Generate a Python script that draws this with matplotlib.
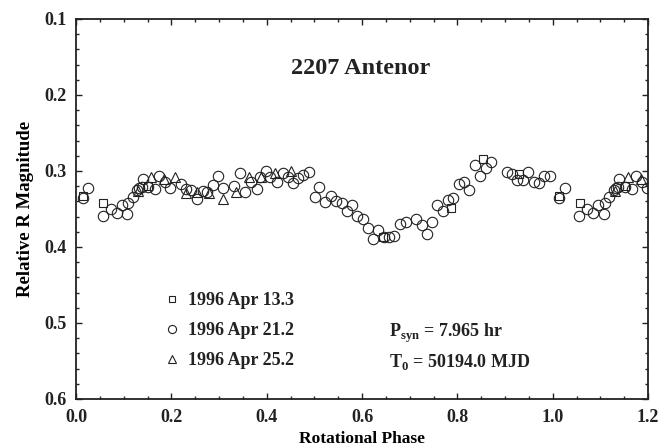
import matplotlib
matplotlib.use("Agg")
import matplotlib.pyplot as plt
import numpy as np
from matplotlib.ticker import MultipleLocator, FormatStrFormatter

plt.rcParams['font.family'] = ['Liberation Serif', 'DejaVu Serif']
plt.rcParams['font.weight'] = 'bold'
plt.rcParams['mathtext.fontset'] = 'custom'
plt.rcParams['mathtext.rm'] = 'Liberation Serif:bold'
plt.rcParams['mathtext.bf'] = 'Liberation Serif:bold'

# ---- data (rotational phase 0..1, relative R magnitude) ----
phase_apr13 = [0.014, 0.057, 0.152, 0.645, 0.786, 0.8545, 0.929]
mag_apr13 = [0.333, 0.3425, 0.320, 0.387, 0.349, 0.284, 0.304]

phase_apr21 = [0.014, 0.026, 0.056, 0.073, 0.085, 0.096, 0.108, 0.110, 0.119, 0.128,
               0.133, 0.138, 0.140, 0.152, 0.166, 0.175, 0.187, 0.197, 0.220, 0.231,
               0.241, 0.253, 0.266, 0.275, 0.287, 0.2985, 0.309, 0.331, 0.344, 0.3545,
               0.3665, 0.379, 0.386, 0.3986, 0.408, 0.421, 0.4335, 0.4455, 0.4545, 0.4665,
               0.477, 0.4895, 0.5014, 0.5105, 0.5224, 0.5343, 0.5455, 0.5573, 0.568, 0.5797,
               0.5902, 0.6014, 0.6133, 0.6238, 0.6343, 0.647, 0.657, 0.667, 0.680, 0.6916,
               0.7133, 0.7252, 0.7357, 0.7462, 0.7566, 0.769, 0.781, 0.7916, 0.8035, 0.814,
               0.825, 0.837, 0.8476, 0.8595, 0.870, 0.9035, 0.914, 0.9258, 0.937, 0.949,
               0.961, 0.9713, 0.9825, 0.9944]
mag_apr21 = [0.335, 0.323, 0.359, 0.350, 0.355, 0.345, 0.357, 0.342, 0.334, 0.325,
             0.323, 0.321, 0.311, 0.321, 0.324, 0.3066, 0.315, 0.323, 0.3175, 0.324,
             0.325, 0.337, 0.326, 0.328, 0.319, 0.3066, 0.323, 0.320, 0.303, 0.327,
             0.314, 0.324, 0.308, 0.2996, 0.3075, 0.315, 0.302, 0.308, 0.3154, 0.3096,
             0.3053, 0.3017, 0.3346, 0.3215, 0.3412, 0.3329, 0.3395, 0.3425, 0.352, 0.3443,
             0.3588, 0.3632, 0.3746, 0.3899, 0.3776, 0.3873, 0.3873, 0.3855, 0.3697, 0.3675,
             0.3632, 0.3711, 0.3829, 0.3675, 0.3447, 0.3526, 0.338, 0.335, 0.3175, 0.315,
             0.325, 0.292, 0.306, 0.2957, 0.2886, 0.3009, 0.3044, 0.3118, 0.3118, 0.3017,
             0.315, 0.3162, 0.306, 0.306]

phase_apr25 = [0.130, 0.157, 0.185, 0.208, 0.231, 0.2545, 0.279, 0.308, 0.335, 0.363,
               0.3875, 0.4175, 0.4504]
mag_apr25 = [0.326, 0.308, 0.311, 0.308, 0.3285, 0.327, 0.329, 0.337, 0.327, 0.308,
             0.3075, 0.303, 0.2996]

labels = ["1996 Apr 13.3", "1996 Apr 21.2", "1996 Apr 25.2"]
title = "2207 Antenor"
psyn_text = r"P$_{\rm syn}$ = 7.965 hr"
t0_text = r"T$_{\rm 0}$ = 50194.0 MJD"


def wrap(ph, mg):
    ph = np.asarray(ph); mg = np.asarray(mg)
    sel = ph <= 0.2
    return np.concatenate([ph, ph[sel] + 1.0]), np.concatenate([mg, mg[sel]])


fig = plt.figure(figsize=(6.62, 4.47), dpi=100)
ax = fig.add_axes([0.1148, 0.1074, 0.8641, 0.8501])

ec = '#222222'
common = dict(linestyle='none', markerfacecolor='none', markeredgecolor=ec,
              markeredgewidth=0.8)
series = [(phase_apr13, mag_apr13, 's', 6.2),
          (phase_apr21, mag_apr21, 'o', 7.5),
          (phase_apr25, mag_apr25, '^', 7.2)]
handles = []
for (ph, mg, mk, ms), lab in zip(series, labels):
    x, y = wrap(ph, mg)
    ax.plot(x, y, marker=mk, markersize=ms, **common)
    h, = ax.plot([], [], marker=mk, markersize=ms * 0.78, label=lab, **common)
    handles.append(h)

ax.set_xlim(0, 1.2)
ax.set_ylim(0.6, 0.1)
ax.xaxis.set_major_locator(MultipleLocator(0.2))
ax.xaxis.set_minor_locator(MultipleLocator(0.05))
ax.yaxis.set_major_locator(MultipleLocator(0.1))
ax.yaxis.set_minor_locator(MultipleLocator(0.02))
ax.xaxis.set_major_formatter(FormatStrFormatter('%.1f'))
ax.yaxis.set_major_formatter(FormatStrFormatter('%.1f'))
ax.tick_params(which='both', direction='in', top=True, right=True, width=1.0, colors='#222222')
ax.tick_params(which='major', length=4.5, labelsize=13, pad=7)
ax.tick_params(which='minor', length=2.3)
for lab in ax.get_xticklabels() + ax.get_yticklabels():
    lab.set_fontweight('bold')
for s in ax.spines.values():
    s.set_linewidth(1.3)
    s.set_color('#222222')

ax.set_xlabel("Rotational Phase", fontsize=12.5, fontweight='bold', labelpad=4)
ax.set_ylabel("Relative R Magnitude", fontsize=13.5, fontweight='bold', labelpad=7)

ax.text(0.498, 0.871, title, transform=ax.transAxes, ha='center', va='center',
        fontsize=17.5, fontweight='bold', color='#222222')

leg = ax.legend(handles=handles, loc='upper left', bbox_to_anchor=(0.143, 0.30),
                frameon=False, handlelength=0.8, handletextpad=0.45,
                labelspacing=0.72, borderaxespad=0, prop={'weight': 'bold', 'size': 13})
for t in leg.get_texts():
    t.set_color('#222222')

ax.text(0.547, 0.172, psyn_text, transform=ax.transAxes, ha='left', va='center',
        fontsize=13, fontweight='bold', color='#222222')
ax.text(0.547, 0.098, t0_text, transform=ax.transAxes, ha='left', va='center',
        fontsize=13, fontweight='bold', color='#222222')

fig.savefig("out.png", dpi=100)
